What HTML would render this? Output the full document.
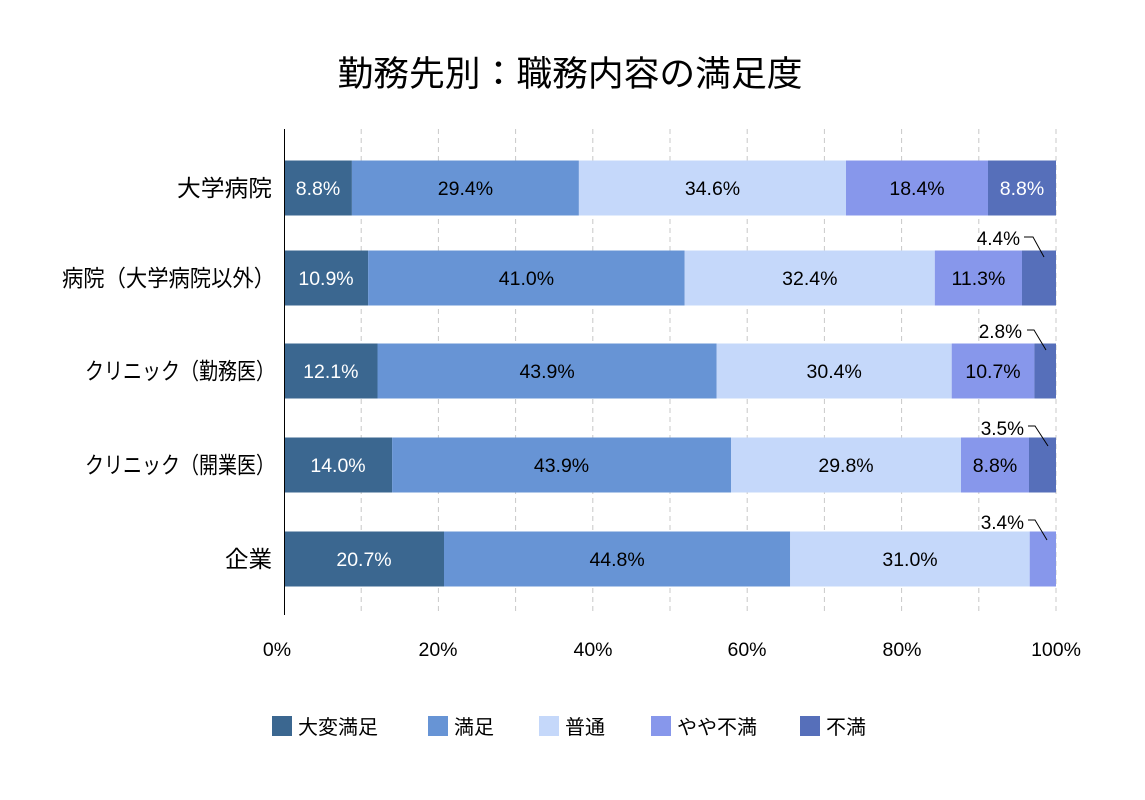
<!DOCTYPE html>
<html><head><meta charset="utf-8"><style>
html,body{margin:0;padding:0;background:#fff;}
svg{display:block;font-family:"Liberation Sans","Noto Sans CJK JP",sans-serif;}
</style></head><body>
<svg width="1145" height="800" xmlns="http://www.w3.org/2000/svg">
<rect width="1145" height="800" fill="#fff"/>
<text x="570" y="86" font-size="35" text-anchor="middle" fill="#000" textLength="465" lengthAdjust="spacingAndGlyphs">勤務先別：職務内容の満足度</text>
<g stroke="#c8c8c8" stroke-width="1" stroke-dasharray="5,4">
<line x1="361.2" y1="129" x2="361.2" y2="615"/><line x1="438.4" y1="129" x2="438.4" y2="615"/>
<line x1="515.6" y1="129" x2="515.6" y2="615"/><line x1="592.8" y1="129" x2="592.8" y2="615"/>
<line x1="670" y1="129" x2="670" y2="615"/><line x1="747.2" y1="129" x2="747.2" y2="615"/>
<line x1="824.4" y1="129" x2="824.4" y2="615"/><line x1="901.6" y1="129" x2="901.6" y2="615"/>
<line x1="978.8" y1="129" x2="978.8" y2="615"/><line x1="1056" y1="129" x2="1056" y2="615"/>
</g>
<g>
<rect x="284" y="160.5" width="67.9" height="55" fill="#3b6790"/>
<rect x="351.9" y="160.5" width="227" height="55" fill="#6794d5"/>
<rect x="578.9" y="160.5" width="267.1" height="55" fill="#c5d8fa"/>
<rect x="846" y="160.5" width="142" height="55" fill="#8797eb"/>
<rect x="988" y="160.5" width="68" height="55" fill="#566fba"/>
</g>
<g>
<rect x="284" y="250.5" width="84.1" height="55" fill="#3b6790"/>
<rect x="368.1" y="250.5" width="316.6" height="55" fill="#6794d5"/>
<rect x="684.7" y="250.5" width="250.1" height="55" fill="#c5d8fa"/>
<rect x="934.8" y="250.5" width="87.2" height="55" fill="#8797eb"/>
<rect x="1022" y="250.5" width="34" height="55" fill="#566fba"/>
</g>
<g>
<rect x="284" y="343.5" width="93.5" height="55" fill="#3b6790"/>
<rect x="377.5" y="343.5" width="339.2" height="55" fill="#6794d5"/>
<rect x="716.7" y="343.5" width="235" height="55" fill="#c5d8fa"/>
<rect x="951.7" y="343.5" width="82.7" height="55" fill="#8797eb"/>
<rect x="1034.4" y="343.5" width="21.6" height="55" fill="#566fba"/>
</g>
<g>
<rect x="284" y="437.5" width="108.1" height="55" fill="#3b6790"/>
<rect x="392.1" y="437.5" width="338.9" height="55" fill="#6794d5"/>
<rect x="731" y="437.5" width="230" height="55" fill="#c5d8fa"/>
<rect x="961" y="437.5" width="68" height="55" fill="#8797eb"/>
<rect x="1029" y="437.5" width="27" height="55" fill="#566fba"/>
</g>
<g>
<rect x="284" y="531.5" width="160" height="55" fill="#3b6790"/>
<rect x="444" y="531.5" width="346.2" height="55" fill="#6794d5"/>
<rect x="790.2" y="531.5" width="239.5" height="55" fill="#c5d8fa"/>
<rect x="1029.7" y="531.5" width="26.3" height="55" fill="#8797eb"/>
</g>
<line x1="284.5" y1="129" x2="284.5" y2="615" stroke="#000" stroke-width="1"/>
<g font-size="19.5" text-anchor="middle" fill="#000">
<text x="318" y="195" fill="#fff">8.8%</text><text x="465.4" y="195">29.4%</text><text x="712.5" y="195">34.6%</text><text x="917" y="195">18.4%</text><text x="1022" y="195" fill="#fff">8.8%</text>
<text x="326" y="285" fill="#fff">10.9%</text><text x="526.4" y="285">41.0%</text><text x="809.8" y="285">32.4%</text><text x="978.4" y="285">11.3%</text>
<text x="330.8" y="378" fill="#fff">12.1%</text><text x="547.1" y="378">43.9%</text><text x="834.2" y="378">30.4%</text><text x="993" y="378">10.7%</text>
<text x="338" y="472" fill="#fff">14.0%</text><text x="561.5" y="472">43.9%</text><text x="846" y="472">29.8%</text><text x="995" y="472">8.8%</text>
<text x="364" y="566" fill="#fff">20.7%</text><text x="617.1" y="566">44.8%</text><text x="910" y="566">31.0%</text>
</g>
<g font-size="19" text-anchor="end" fill="#000">
<text x="1020" y="245">4.4%</text><text x="1022" y="338">2.8%</text><text x="1024" y="435">3.5%</text><text x="1024" y="529">3.4%</text>
</g>
<g stroke="#000" stroke-width="1" fill="none">
<polyline points="1024,237 1033,237 1044,257"/>
<polyline points="1027,330 1034,330 1046,350"/>
<polyline points="1028,426 1035,426 1048,446"/>
<polyline points="1028,520 1035,520 1047,540"/>
</g>
<g font-size="23" fill="#000">
<text x="177" y="196" textLength="95" lengthAdjust="spacingAndGlyphs">大学病院</text>
<text x="62" y="286" textLength="213" lengthAdjust="spacingAndGlyphs">病院（大学病院以外）</text>
<text x="85" y="379" textLength="190" lengthAdjust="spacingAndGlyphs">クリニック（勤務医）</text>
<text x="85" y="473" textLength="190" lengthAdjust="spacingAndGlyphs">クリニック（開業医）</text>
<text x="225" y="567" textLength="47" lengthAdjust="spacingAndGlyphs">企業</text>
</g>
<g font-size="19.5" text-anchor="middle" fill="#000">
<text x="277" y="656">0%</text><text x="438" y="656">20%</text><text x="593" y="656">40%</text><text x="747" y="656">60%</text><text x="902" y="656">80%</text><text x="1056" y="656">100%</text>
</g>
<g font-size="20" fill="#000">
<rect x="272" y="716" width="20" height="20" fill="#3b6790"/><text x="298" y="734">大変満足</text>
<rect x="428" y="716" width="20" height="20" fill="#6794d5"/><text x="454" y="734">満足</text>
<rect x="539" y="716" width="20" height="20" fill="#c5d8fa"/><text x="565" y="734">普通</text>
<rect x="651" y="716" width="20" height="20" fill="#8797eb"/><text x="677" y="734">やや不満</text>
<rect x="800" y="716" width="20" height="20" fill="#566fba"/><text x="826" y="734">不満</text>
</g>
</svg>
</body></html>
